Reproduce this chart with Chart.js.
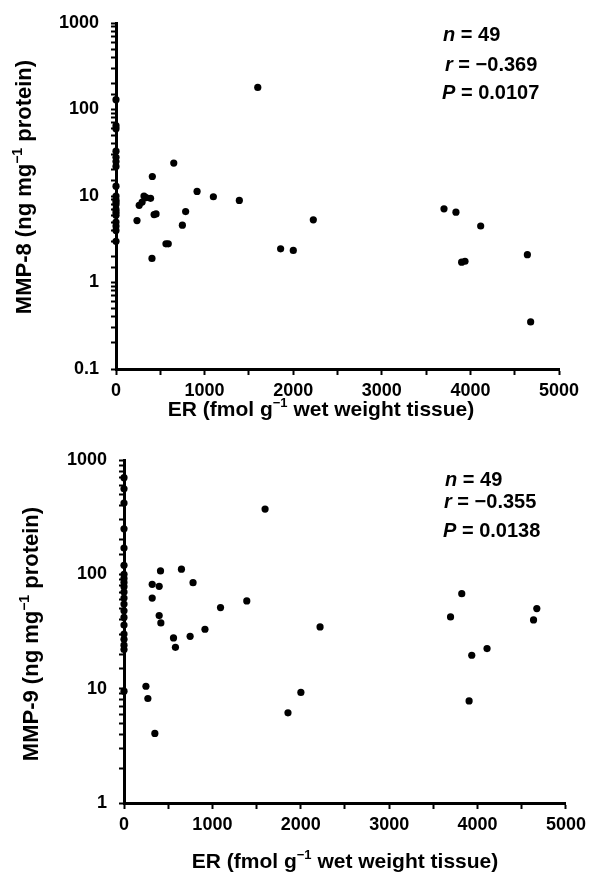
<!DOCTYPE html>
<html>
<head>
<meta charset="utf-8">
<script src="https://cdn.jsdelivr.net/npm/chart.js@4"></script>
<style>
  body { margin: 0; background: #fff; }
  .wrap { position: absolute; left: 0; width: 591px; }
  #top { top: 0; height: 425px; }
  #bottom { top: 425px; height: 449px; }
</style>
</head>
<body>
<div class="wrap" id="top"><canvas id="chart-mmp8" width="591" height="425"></canvas></div>
<div class="wrap" id="bottom"><canvas id="chart-mmp9" width="591" height="449"></canvas></div>
<script>
// Data: ER (fmol/g) vs MMP-8 / MMP-9 (ng/mg protein), n = 49 each
const erMMP8 = [
    0, 0, 0, 0, 0, 0, 0, 0, 0, 0, 0, 0, 0, 0, 0, 0, 0, 0, 0,
    237, 262, 295, 316, 340, 390, 410, 406, 430, 452, 564, 590, 652, 749, 786,
    915, 1099, 1392, 1600, 1858, 2001, 2227, 3702, 3837, 3901, 3939, 4116, 4643, 4680
];
const mmp8 = [
    130, 65, 60, 33, 28, 25, 22, 13, 10, 9, 8.5, 8, 7, 6.5, 6, 5, 4.5, 4, 3,
    5.2, 7.8, 8.5, 10, 9.6, 9.4, 16.8, 1.9, 6.1, 6.2, 2.8, 2.8, 24, 4.6, 6.6,
    11.3, 9.8, 8.9, 180, 2.45, 2.35, 5.3, 7.1, 6.5, 1.72, 1.76, 4.5, 2.1, 0.35
];

const erMMP9 = [
    0, 0, 0, 0, 0, 0, 0, 0, 0, 0, 0, 0, 0, 0, 0, 0, 0, 0, 0, 0, 0,
    248, 270, 319, 319, 349, 398, 398, 413, 417, 560, 582, 650, 748, 781,
    916, 1092, 1389, 1596, 1855, 2001, 2218, 3694, 3821, 3904, 3934, 4107, 4633, 4670
];
const mmp9 = [
    700, 560, 420, 250, 170, 120, 100, 92, 85, 78, 70, 62, 55, 48, 42, 36, 30, 27, 24, 22, 9.5,
    10.5, 8.2, 81.8, 62, 4.06, 78.5, 43.6, 107, 37.6, 27.8, 23, 111, 28.7, 84.6,
    33.1, 51.2, 58.5, 372, 6.15, 9.27, 34.7, 42.4, 67.8, 7.82, 19.6, 22.4, 39.9, 50.2
];

const xTicks = [0, 1000, 2000, 3000, 4000, 5000];
const statsMMP8 = ['49', '\u22120.369', '0.0107'];
const statsMMP9 = ['49', '\u22120.355', '0.0138'];

const FONT = "'Liberation Sans', Arial, Helvetica, sans-serif";

// draw a line of text made of parts (italic / superscript)
function drawRich(ctx, item) {
    const size = item.size;
    const fontFor = p => `${p.it ? 'italic ' : ''}bold ${p.sup ? Math.round(size * 0.62) : size}px ${FONT}`;
    let total = 0;
    item.parts.forEach(p => { ctx.font = fontFor(p); total += ctx.measureText(p.t).width; });
    ctx.save();
    ctx.translate(item.x, item.y);
    if (item.rotate) ctx.rotate(item.rotate);
    ctx.fillStyle = '#000';
    ctx.textBaseline = 'alphabetic';
    ctx.textAlign = 'left';
    let x = item.align === 'center' ? -total / 2 : 0;
    item.parts.forEach(p => {
        ctx.font = fontFor(p);
        ctx.fillText(p.t, x, p.sup ? -size * 0.42 : 0);
        x += ctx.measureText(p.t).width;
    });
    ctx.restore();
}

const richText = {
    id: 'richText',
    afterDraw(chart, args, opts) {
        (opts.items || []).forEach(it => drawRich(chart.ctx, it));
    }
};

function statItems(stats, x, ys) {
    return [
        { x: x[0], y: ys[0], size: 20, parts: [{ t: 'n', it: true }, { t: ' = ' + stats[0] }] },
        { x: x[1], y: ys[1], size: 20, parts: [{ t: 'r', it: true }, { t: ' = ' + stats[1] }] },
        { x: x[2], y: ys[2], size: 20, parts: [{ t: 'P', it: true }, { t: ' = ' + stats[2] }] }
    ];
}

function makeChart(id, er, vals, cfg) {
    const ctx = document.getElementById(id).getContext('2d');
    return new Chart(ctx, {
        type: 'scatter',
        data: {
            datasets: [{
                data: er.map((x, i) => ({ x, y: vals[i] })),
                backgroundColor: '#000',
                borderColor: '#000',
                pointRadius: 3.6,
                pointBorderWidth: 0,
                clip: false
            }]
        },
        plugins: [richText],
        options: {
            responsive: false,
            animation: false,
            layout: { padding: { top: cfg.padTop, right: cfg.padRight, left: 0, bottom: 0 } },
            plugins: {
                legend: { display: false },
                tooltip: { enabled: false },
                richText: { items: cfg.text }
            },
            scales: {
                x: {
                    type: 'linear',
                    min: 0,
                    max: 5000,
                    afterBuildTicks: s => {
                        const t = [];
                        for (let v = 0; v <= 5000; v += 500) t.push({ value: v });
                        s.ticks = t;
                    },
                    afterFit: s => { s.height = cfg.xHeight; },
                    border: { display: true, width: 3, color: '#000' },
                    grid: { drawOnChartArea: false, drawTicks: true, tickLength: 6, tickWidth: 2, tickColor: '#000' },
                    ticks: {
                        autoSkip: false,
                        maxRotation: 0,
                        padding: 5,
                        color: '#000',
                        font: { family: FONT, size: 18, weight: 'bold' },
                        callback: v => xTicks.includes(v) ? String(v) : ''
                    }
                },
                y: {
                    type: 'logarithmic',
                    min: cfg.yMin,
                    max: 1000,
                    afterFit: s => { s.width = cfg.yWidth; },
                    border: { display: true, width: 3, color: '#000' },
                    grid: { drawOnChartArea: false, drawTicks: true, tickLength: 5, tickWidth: 2, tickColor: '#000' },
                    ticks: {
                        autoSkip: false,
                        padding: 12,
                        color: '#000',
                        font: { family: FONT, size: 18, weight: 'bold' },
                        callback: v => {
                            const l = Math.log10(v);
                            return Math.abs(l - Math.round(l)) < 1e-9 ? String(v) : '';
                        }
                    }
                }
            }
        }
    });
}

makeChart('chart-mmp8', erMMP8, mmp8, {
    padTop: 23, padRight: 32, yWidth: 116, xHeight: 56, yMin: 0.1,
    text: [
        { x: 321, y: 416, size: 21, align: 'center',
          parts: [{ t: 'ER (fmol g' }, { t: '\u22121', sup: true }, { t: ' wet weight tissue)' }] },
        { x: 31, y: 187, size: 22, align: 'center', rotate: -Math.PI / 2,
          parts: [{ t: 'MMP-8 (ng mg' }, { t: '\u22121', sup: true }, { t: ' protein)' }] }
    ].concat(statItems(statsMMP8, [443, 445, 442], [41, 71, 99]))
});

makeChart('chart-mmp9', erMMP9, mmp9, {
    padTop: 35, padRight: 23, yWidth: 124, xHeight: 71, yMin: 1,
    text: [
        { x: 345, y: 443, size: 21, align: 'center',
          parts: [{ t: 'ER (fmol g' }, { t: '\u22121', sup: true }, { t: ' wet weight tissue)' }] },
        { x: 38, y: 209, size: 22, align: 'center', rotate: -Math.PI / 2,
          parts: [{ t: 'MMP-9 (ng mg' }, { t: '\u22121', sup: true }, { t: ' protein)' }] }
    ].concat(statItems(statsMMP9, [445, 444, 443], [61, 83, 112]))
});
</script>
</body>
</html>
